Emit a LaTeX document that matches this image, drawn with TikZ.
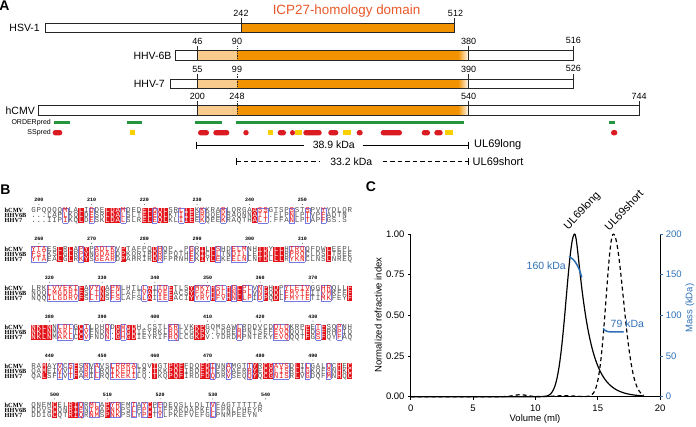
\documentclass[tikz,border=0pt]{standalone}
\usepackage{fontspec}
\setmainfont{Liberation Sans}
\newfontfamily\monof{Liberation Mono}
\newfontfamily\labf{Liberation Serif}
\usetikzlibrary{calc}
\definecolor{orangeD}{RGB}{243,146,0}
\definecolor{orangeL}{RGB}{249,204,142}
\definecolor{icpred}{RGB}{232,88,40}
\definecolor{greenO}{RGB}{38,150,62}
\definecolor{redS}{RGB}{218,28,34}
\definecolor{yellowS}{RGB}{250,208,0}
\definecolor{espred}{RGB}{226,18,24}
\definecolor{espblue}{RGB}{120,120,225}
\definecolor{esptxt}{RGB}{235,20,20}
\definecolor{seqgray}{RGB}{80,80,80}
\definecolor{plotblue}{RGB}{46,112,182}

\newcount\colk
\def\xz{31}
\def\cw{5.27}
\gdef\prevc{n}

\def\doclass#1{%
  \global\advance\colk by 1
  \pgfmathsetmacro\xa{\xz+(\the\colk-1)*\cw}%
  \pgfmathsetmacro\xb{\xz+\the\colk*\cw}%
  \if#1R\fill[espred] (\xa,\ytop) rectangle (\xb,\ybot);\fi
  \if#1b%
    \draw[espframe] (\xa,\ytop) -- (\xb,\ytop) (\xa,\ybot) -- (\xb,\ybot);%
    \if\prevc b\else\draw[espframe] (\xa,\ytop) -- (\xa,\ybot);\fi
  \else
    \if\prevc b\draw[espframe] (\xa,\ytop) -- (\xa,\ybot);\fi
  \fi
  \gdef\prevc{#1}}

\def\clsloop#1{%
  \ifx#1\relax
    \if\prevc b\pgfmathsetmacro\xb{\xz+\the\colk*\cw}\draw[espframe] (\xb,\ytop) -- (\xb,\ybot);\fi
  \else
    \doclass{#1}\expandafter\clsloop
  \fi}

\def\sqloop#1#2\sqend#3#4\clend{%
  \ifx#1\relax\else
    \global\advance\colk by 1
    \pgfmathsetmacro\xc{\xz+(\the\colk-0.5)*\cw}%
    \if#3R\def\tc{white}\else\if#3b\def\tc{esptxt}\else\def\tc{seqgray}\fi\fi
    \node[seqtxt,text=\tc] at (\xc,\yrow) {#1};%
    \sqloop#2\sqend#4\clend
  \fi}

\newcommand\alnblock[5]{%
  \pgfmathsetmacro\ytop{#1+7.8}%
  \pgfmathsetmacro\ybot{#1+23.2}%
  \global\colk=0 \gdef\prevc{n}%
  \clsloop#2\relax
  \pgfmathsetmacro\yrow{#1+12.95}\global\colk=0 \sqloop#3\relax\sqend#2nnnnnnnnnnnn\clend
  \pgfmathsetmacro\yrow{#1+17.95}\global\colk=0 \sqloop#4\relax\sqend#2nnnnnnnnnnnn\clend
  \pgfmathsetmacro\yrow{#1+22.95}\global\colk=0 \sqloop#5\relax\sqend#2nnnnnnnnnnnn\clend
  \node[alnlab] at (4.5,#1+12.95) {hCMV};
  \node[alnlab] at (4.5,#1+17.95) {HHV6B};
  \node[alnlab] at (4.5,#1+22.95) {HHV7};
}

\newcommand\alnnums[4]{%
  \foreach \i in {0,...,#4}{%
    \pgfmathsetmacro\xn{\xz+(#2+10*\i-0.5)*\cw}%
    \pgfmathtruncatemacro\nn{#3+10*\i}%
    \node[alnnum] at (\xn,#1) {\nn};
    \fill[black!80] (\xn,#1+4.4) circle (0.45);
  }}

\begin{document}
\begin{tikzpicture}[x=1pt,y=-1pt,
  panlab/.style={font=\bfseries\fontsize{14}{14}\selectfont, inner sep=0pt},
  barline/.style={line width=0.8pt, draw=black!85},
  dtick/.style={line width=0.8pt, draw=black!85, dash pattern=on 1.3pt off 1.1pt},
  ticknum/.style={font=\fontsize{9}{9}\selectfont, inner sep=0pt},
  protlab/.style={font=\fontsize{10.5}{10.5}\selectfont, anchor=east, inner sep=0pt},
  predlab/.style={font=\fontsize{7}{7}\selectfont, anchor=east, inner sep=0pt},
  kdalab/.style={font=\fontsize{10.5}{10.5}\selectfont, inner sep=0pt},
  seqtxt/.style={font=\monof\fontsize{7.5}{7.5}\selectfont, inner sep=0pt, anchor=base},
  alnlab/.style={font=\labf\bfseries\fontsize{6.3}{6.3}\selectfont, inner sep=0pt, anchor=base west},
  alnnum/.style={font=\monof\bfseries\fontsize{5}{5}\selectfont, inner sep=0pt},
  espframe/.style={draw=espblue, line width=0.55pt},
  axlab/.style={font=\fontsize{9.5}{9.5}\selectfont, inner sep=0pt},
  curve/.style={line width=1.2pt, line join=round},
  massline/.style={line width=1.5pt, draw=plotblue, line cap=round}
]
\useasboundingbox (0,0) rectangle (696,426);

% ================= Panel A =================
\node[panlab] (A) at (4.5,5.5) {A};
\node[font=\fontsize{13.4}{13.4}\selectfont, text=icpred, inner sep=0pt] (icp) at (346.5,11) {ICP27-homology domain};

% HSV-1
\fill[orangeD] (241,23.3) rectangle (454.3,32.7);
\draw[barline] (45.7,23.3) rectangle (454.3,32.7);
\draw[barline] (241,18) -- (241,32.7) (454.3,18) -- (454.3,32.7);
\node[ticknum] (n242) at (241,13) {242};
\node[ticknum] (n512) at (455.5,13) {512};
\node[protlab] (hsv) at (40,28) {HSV-1};

% HHV-6B
\fill[orangeL] (197.3,50.7) rectangle (237,60.7);
\fill[orangeD] (237,50.7) rectangle (458,60.7);
\shade[left color=orangeD,right color=white] (458,50.7) rectangle (468.7,60.7);
\draw[barline] (175.7,50.7) rectangle (573.3,60.7);
\draw[barline] (197.3,45.7) -- (197.3,60.7) (468.7,45.7) -- (468.7,60.7) (573.3,45.7) -- (573.3,60.7);
\draw[dtick] (237,45.7) -- (237,60.7);
\node[ticknum] (n46) at (197.3,41) {46};
\node[ticknum] (n90) at (237,41) {90};
\node[ticknum] (n380) at (468.7,41) {380};
\node[ticknum] (n516) at (573.3,40) {516};
\node[protlab] (h6b) at (171.7,56) {HHV-6B};

% HHV-7
\fill[orangeL] (197.3,79) rectangle (237,88.7);
\fill[orangeD] (237,79) rectangle (458,88.7);
\shade[left color=orangeD,right color=white] (458,79) rectangle (468.7,88.7);
\draw[barline] (170,79) rectangle (573.3,88.7);
\draw[barline] (197.3,74) -- (197.3,88.7) (468.7,74) -- (468.7,88.7) (573.3,74) -- (573.3,88.7);
\draw[dtick] (237,74) -- (237,88.7);
\node[ticknum] (n55) at (197.3,69.3) {55};
\node[ticknum] (n99) at (237,69.3) {99};
\node[ticknum] (n390) at (468.7,69.3) {390};
\node[ticknum] (n526) at (573.3,68.5) {526};
\node[protlab] (h7) at (165,84) {HHV-7};

% hCMV
\fill[orangeL] (197.3,105.3) rectangle (237,115.7);
\fill[orangeD] (237,105.3) rectangle (458,115.7);
\shade[left color=orangeD,right color=white] (458,105.3) rectangle (468.7,115.7);
\draw[barline] (38.3,105.3) rectangle (639,115.7);
\draw[barline] (197.3,101) -- (197.3,115.7) (468.7,101) -- (468.7,115.7) (639,101) -- (639,115.7);
\draw[dtick] (237,101) -- (237,115.7);
\node[ticknum] (n200) at (197.3,96.3) {200};
\node[ticknum] (n248) at (237,96.3) {248};
\node[ticknum] (n540) at (468.7,96.3) {540};
\node[ticknum] (n744) at (639,96.3) {744};
\node[protlab] (hcmv) at (35,110.5) {hCMV};

% predictions
\node[predlab] (ord) at (51,122.8) {ORDERpred};
\node[predlab] (ssp) at (51,132.8) {SSpred};
\foreach \a/\b in {54.3/70,126.7/142.3,195/222.3,235.7/464,609.3/615.3}
  \fill[greenO] (\a,121.2) rectangle (\b,124.4);
\foreach \a/\b in {52.7/62.3,198/209,213.3/229.3,243.3/248.7,277.7/286,290/295,303.3/321.7,328.3/338.3,356.7/362.7,380.7/402,421.7/430,434.3/442.7,611/617.3}
  \fill[redS, rounded corners=2.6pt] (\a,130) rectangle (\b,135.4);
\foreach \a/\b in {130/134.5,268.3/273.3,295/301.7,343.3/350.7,445/452.7}
  \fill[yellowS] (\a,130.3) rectangle (\b,135.1);

% fragment lines
\coordinate (la1) at (196.7,145);
\coordinate (la2) at (304.3,145);
\coordinate (la3) at (362.7,145);
\coordinate (la4) at (468.3,145);
\draw[line width=0.8pt] (la1) -- (la2) (la3) -- (la4);
\draw[line width=0.8pt] (196.7,141.5) -- (196.7,148.5) (468.3,141.5) -- (468.3,148.5);
\node[kdalab] (k389) at (333.8,145) {38.9 kDa};
\node[kdalab, font=\fontsize{11}{11}\selectfont, anchor=west] (ul1) at (474,145) {UL69long};

\coordinate (lb1) at (236.3,161.7);
\coordinate (lb2) at (320,161.7);
\coordinate (lb3) at (382.7,161.7);
\coordinate (lb4) at (468.3,161.7);
\draw[line width=0.8pt, dash pattern=on 4.5pt off 3pt] (lb1) -- (lb2);
\draw[line width=0.8pt, dash pattern=on 4.5pt off 3pt] (lb3) -- (lb4);
\draw[line width=0.8pt] (236.3,158.2) -- (236.3,165.2) (468.3,158.2) -- (468.3,165.2);
\node[kdalab] (k332) at (351.3,161.7) {33.2 kDa};
\node[kdalab, font=\fontsize{11}{11}\selectfont, anchor=west] (ul2) at (472.5,161.7) {UL69short};

% ================= Panel B =================
\node[panlab] (B) at (5.5,190) {B};

\alnnums{200}{2}{200}{5}
\alnblock{200}{nnnnnnbnnRnbnnRRRbnnnRRbRRnnbRRnbnnnbnnnnnRbbnnnnbnnbnnbnnnnn}%
{GPQQQQMLALIDDELDAMDEDELQQLSRLIEKKKRARLQRGAASSGTSPSSTSPVYYDLQR}%
{...LAPLKQLDESRLDALSLTELEQLKTIIEERQQEKRAQNNAIT.FLPNLPTVPFADTN}%
{...IIPIKQLDESKLDALSLRELEQLKLIIEEKQEEKRAQTHALT.FFANLPTAPFGS.S}

\alnnums{238.9}{2}{260}{5}
\alnblock{238.9}{bbbnnRnRnbRnbbbbnRnnnnnRbnnnnnbnRnRbnnbbbnnRRnRRnbbbnnnnRnnnn}%
{YTAESLRLAPYPADLKVPTAFPQDHQP..PGRILLSHDELMNHTDYLLHIRQQFDWLEEPL}%
{FSIKSLGLRPYNGDARDPKQRIRDRFPQTHEKICLLTNDILLETDLLLRPRQCLDSLTREE}%
{YTAEALGLRKYSGEARDPAHRIRDRFPRNHEKIYLEKEELNLNTDLLLRYKNCLNSLNREQ}

\alnnums{277.8}{4}{320}{5}
\alnblock{277.8}{nnnbbbbbbRnbbRnbbnnnnbRnbbRnnnRbbbRbbRbRbbnbRnRnbbbbbnnbbnnnR}%
{LRKLVVEKIFAVYNAPNLHTLLAIIDETLSYMKYHSLHGLPLVNPHDPYLEIVGGHRQLLF}%
{NQQLMGDRIFSLTNSFCLAFTVATVEEACSYFKFHDLHNLPLVNPQDLFMYTEITVMKFEF}%
{NQQILGDRVFSLTNSFSLAFSLAIIEEACIYYRYHFVHNLLPIDPQDLFMYTETIMKFEYF}

\alnnums{316.7}{4}{380}{5}
\alnblock{316.7}{RRRRnbbbnRbnnnbnRbRRnnnnnnbbnnnRRnnnnnnbnnnnnnbbbnnnRnbRnnbnn}%
{NKLNNLDLGCILDHQDGWGDH.CSTLKRLVKKPGQMSAWLRDDVCDDLQKRPPETFSQPNH}%
{NKLNMAKLTCVFNDN.GHGDIEYRKLRQLCGKPV.LDREMPNTSEFEVQQQTFDSFRHPIQ}%
{NKLNMAKLCCVFNDN.GHGDIEYRIFRQLCGKPV.YDRDMPNTEKYEVQQQTFGSFQYFAQ}

\alnnums{355.6}{4}{440}{5}
\alnblock{355.6}{nnRnnbnbRnbnbnnbbbbbnnnRnnRRRnnnRRbnnbnnnbRnRRbbbnRnbnnnbnRnR}%
{RAMAYVCSFSNVAVSLRRRALQVTGTPQFFDQFDINNAMGTTYRCGAVSDLILGALQCHEC}%
{QAMEIVVTFARILRQIKEHIIR.TKKPQFIRDFDTERVAERRYECGLISRLIGKQFSNHKC}%
{QALSFIVTFARILRQIKEKILQ.TKQPQFIRDFDQDRVSEQQYQCGNISRLVGDQFMNHQC}

\alnnums{394.5}{5}{500}{4}
\alnblock{394.5}{nnnnRnnRRbnbbnRbbnnbnbRnbnnnnnnnnnbnnnnnnnnnn}%
{QNEMCELRIQRMLAPYRFMIAYCPFDEQSLLDLTVFAGTTTTTA}%
{DDVSCQNRIENIMAPNKPSLFPCTIFPAKDAPKFLFPNLPHEYR}%
{DDIGCQTRIQRNMSPNKPSLYPCTYLPKEFVEFGLPNMPEEYN}

% ================= Panel C =================
\node[panlab] (C) at (371,187) {C};
\node[axlab, rotate=90] (ylab) at (378.3,315) {Normalized refractive index};
\node[axlab, text=plotblue, rotate=90] (y2lab) at (690,308) {Mass (kDa)};
\node[axlab] (xlab) at (535,419.5) {Volume (ml)};

\begin{scope}[shift={(410.7,396.7)}, x=12.47pt, y=162.7pt]
  \draw[line width=0.9pt] (0,1) -- (0,0) -- (20,0) -- (20,1);
  \foreach \v/\l/\m in {0/0.00/0,0.25/0.25/50,0.5/0.50/100,0.75/0.75/150,1/1.00/200}{
    \draw[line width=0.9pt] (0,\v) -- ++(-3pt,0);
    \node[axlab, anchor=east] at ($(0,\v)+(-6pt,0)$) {\l};
    \draw[line width=0.9pt, plotblue] (20,\v) -- ++(3pt,0);
    \node[axlab, anchor=west, text=plotblue] at ($(20,\v)+(5.5pt,0)$) {\m};
  }
  \foreach \t in {0,5,10,15,20}{
    \draw[line width=0.9pt] (\t,0) -- ++(0,-3pt);
    \node[axlab] at ($(\t,0)+(0,-11.8pt)$) {\t};
  }
  % curves
  \draw[curve] plot[domain=0:18.7, samples=300]
    (\x, {\x<13.15 ? exp(-min((\x-13.15)^2/0.925,12)) : exp(-(sqrt((\x-13.15)^2+0.04)-0.2))});
  \draw[curve, dash pattern=on 4pt off 3pt] plot[domain=0:18.7, samples=300]
    (\x, {(\x<16.25 ? exp(-min((\x-16.25)^2/0.673,12)) : exp(-min((\x-16.25)^2/1.28,12))) + 0.012*exp(-min((\x-8.8)^2/0.6,12)) + 0.006*exp(-min((\x-12.3)^2/1.5,12))});
  % mass
  \coordinate (m1a) at (12.72,0.86);
  \coordinate (m1b) at (13.71,0.735);
  \draw[massline] (m1a) .. controls (13.1,0.85) and (13.5,0.8) .. (m1b);
  \coordinate (m2a) at (15.45,0.418);
  \coordinate (m2b) at (17.05,0.398);
  \draw[massline] (m2a) .. controls (15.6,0.40) and (15.9,0.397) .. (16.3,0.398) -- (m2b);
\end{scope}

\node[kdalab, text=plotblue, anchor=east] (k160) at (566,266) {160 kDa};
\node[kdalab, text=plotblue, anchor=west] (k79) at (610.5,324) {79 kDa};
\node[font=\fontsize{11}{11}\selectfont, rotate=47, anchor=south west, inner sep=0pt] (c1) at (570,232) {UL69long};
\node[font=\fontsize{11}{11}\selectfont, rotate=47, anchor=south west, inner sep=0pt] (c2) at (609.5,232) {UL69short};

\end{tikzpicture}
\end{document}
